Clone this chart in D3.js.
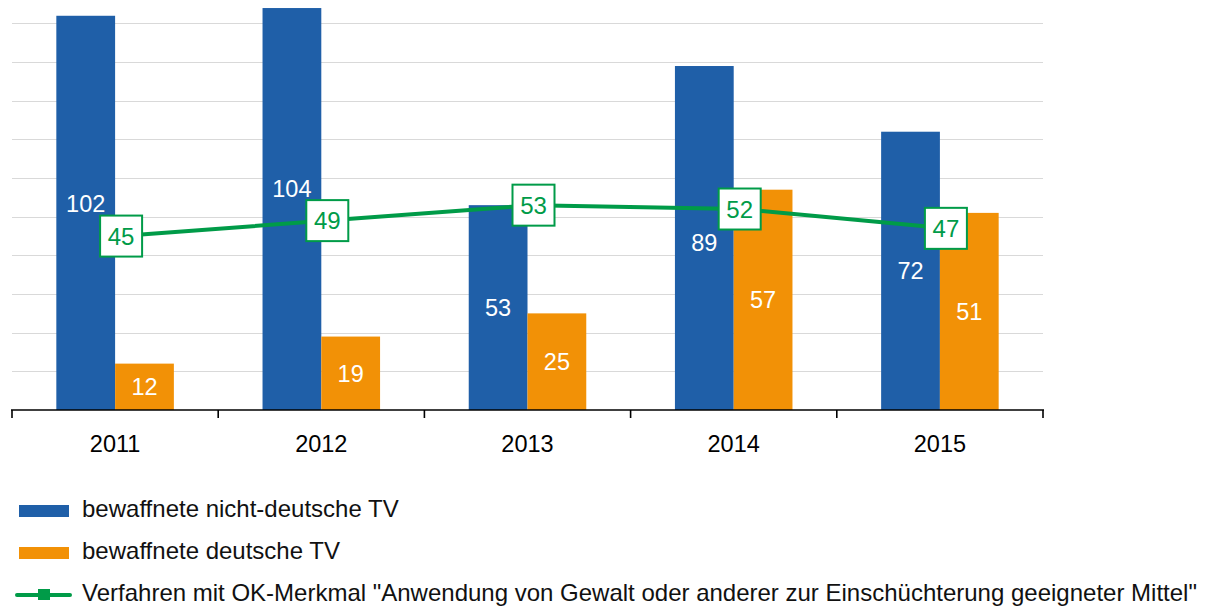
<!DOCTYPE html>
<html>
<head>
<meta charset="utf-8">
<script src="https://cdn.jsdelivr.net/npm/d3@7"></script>
<style>
  body { margin: 0; background: #fff; }
  svg text { font-family: "Liberation Sans", Arial, sans-serif; }
</style>
</head>
<body>
<div id="chart"></div>
<script>
var years = ["2011", "2012", "2013", "2014", "2015"];
var nonGerman = [102, 104, 53, 89, 72];
var german = [12, 19, 25, 57, 51];
var okCases = [45, 49, 53, 52, 47];
var gridTicks = [10, 20, 30, 40, 50, 60, 70, 80, 90, 100];
var legendLabels = [
	"bewaffnete nicht-deutsche TV",
	"bewaffnete deutsche TV",
	"Verfahren mit OK-Merkmal \"Anwendung von Gewalt oder anderer zur Einschüchterung geeigneter Mittel\""
];

var blue = "#1f5fa8";
var orange = "#f29106";
var green = "#009b48";

var width = 1224, height = 606;
var baseY = 410;

var svg = d3.select("#chart")
	.append("svg")
	.attr("width", width)
	.attr("height", height);

var x = d3.scaleBand()
	.domain(years)
	.range([12, 1043]);

// bars sit side by side, centred in each band
var barW = x.bandwidth() * 0.285;

var y = d3.scaleLinear()
	.domain([0, 110])
	.range([baseY, baseY - 110 * 3.865]);

// gridlines
svg.append("g")
	.selectAll("line")
	.data(gridTicks)
	.join("line")
	.attr("x1", 12)
	.attr("x2", 1043)
	.attr("y1", d => Math.round(y(d)) + 0.5)
	.attr("y2", d => Math.round(y(d)) + 0.5)
	.attr("stroke", "#d9d9d9")
	.attr("stroke-width", 1.2);

var center = d => x(d) + x.bandwidth() / 2;
var lineX = d => center(d) + 6;

// blue bars
svg.append("g")
	.selectAll("rect")
	.data(years)
	.join("rect")
	.attr("x", d => center(d) - barW)
	.attr("y", (d, i) => y(nonGerman[i]))
	.attr("width", barW)
	.attr("height", (d, i) => baseY - y(nonGerman[i]))
	.attr("fill", blue);

// orange bars
svg.append("g")
	.selectAll("rect")
	.data(years)
	.join("rect")
	.attr("x", d => center(d))
	.attr("y", (d, i) => y(german[i]))
	.attr("width", barW)
	.attr("height", (d, i) => baseY - y(german[i]))
	.attr("fill", orange);

// x axis
var xAxis = d3.axisBottom(x)
	.tickSize(0)
	.tickFormat("");
var ax = svg.append("g")
	.attr("transform", "translate(0," + baseY + ")")
	.call(xAxis);
ax.select(".domain")
	.attr("stroke", "#000")
	.attr("stroke-width", 1.6)
	.attr("d", "M11,0H1044");

// category boundary ticks
var bounds = years.map(d => x(d)).concat([x(years[years.length - 1]) + x.bandwidth()]);
svg.append("g")
	.selectAll("line")
	.data(bounds)
	.join("line")
	.attr("x1", d => d)
	.attr("x2", d => d)
	.attr("y1", baseY)
	.attr("y2", baseY + 8)
	.attr("stroke", "#000")
	.attr("stroke-width", 1.6);

svg.append("g")
	.selectAll("text")
	.data(years)
	.join("text")
	.attr("x", d => center(d))
	.attr("y", 452)
	.attr("text-anchor", "middle")
	.attr("font-size", 23.5)
	.attr("fill", "#000")
	.text(d => d);

// bar value labels
var boxH = 41, boxW = 42;
function blueLabelY(i) {
	var mid = (y(nonGerman[i]) + baseY) / 2;
	var ly = y(okCases[i]);
	if (Math.abs(mid - ly) < 34) {
		return mid < ly ? ly - boxH / 2 - 12 : ly + boxH / 2 + 13;
	}
	return mid;
}

svg.append("g")
	.selectAll("text")
	.data(years)
	.join("text")
	.attr("x", d => center(d) - barW / 2)
	.attr("y", (d, i) => blueLabelY(i))
	.attr("dy", "0.36em")
	.attr("text-anchor", "middle")
	.attr("font-size", 23.5)
	.attr("fill", "#fff")
	.text((d, i) => nonGerman[i]);

svg.append("g")
	.selectAll("text")
	.data(years)
	.join("text")
	.attr("x", d => center(d) + barW / 2)
	.attr("y", (d, i) => (y(german[i]) + baseY) / 2)
	.attr("dy", "0.36em")
	.attr("text-anchor", "middle")
	.attr("font-size", 23.5)
	.attr("fill", "#fff")
	.text((d, i) => german[i]);

// green line
var line = d3.line()
	.x(d => lineX(d))
	.y((d, i) => y(okCases[i]));

svg.append("path")
	.datum(years)
	.attr("d", line)
	.attr("fill", "none")
	.attr("stroke", green)
	.attr("stroke-width", 4);

var boxes = svg.append("g")
	.selectAll("g")
	.data(years)
	.join("g")
	.attr("transform", (d, i) => "translate(" + lineX(d) + "," + y(okCases[i]) + ")");
boxes.append("rect")
	.attr("x", -boxW / 2)
	.attr("y", -boxH / 2)
	.attr("width", boxW)
	.attr("height", boxH)
	.attr("fill", "#fff")
	.attr("stroke", green)
	.attr("stroke-width", 2);
boxes.append("text")
	.attr("text-anchor", "middle")
	.attr("dy", "0.36em")
	.attr("font-size", 24)
	.attr("fill", green)
	.text((d, i) => okCases[i]);

// legend
var legend = svg.append("g")
	.selectAll("g")
	.data(legendLabels)
	.join("g")
	.attr("transform", (d, i) => "translate(0," + (511 + i * 42) + ")");

legend.filter((d, i) => i < 2)
	.append("rect")
	.attr("x", 19)
	.attr("y", -6)
	.attr("width", 50)
	.attr("height", 12)
	.attr("fill", (d, i) => i == 0 ? blue : orange);

var lg = legend.filter((d, i) => i == 2);
lg.append("line")
	.attr("x1", 17)
	.attr("x2", 70)
	.attr("y1", 0)
	.attr("y2", 0)
	.attr("stroke", green)
	.attr("stroke-width", 4)
	.attr("stroke-linecap", "round");
lg.append("rect")
	.attr("x", 38)
	.attr("y", -6)
	.attr("width", 12)
	.attr("height", 11)
	.attr("fill", green);

legend.append("text")
	.attr("x", 82)
	.attr("y", 6)
	.attr("font-size", 24)
	.attr("fill", "#111")
	.text(d => d);
</script>
</body>
</html>
